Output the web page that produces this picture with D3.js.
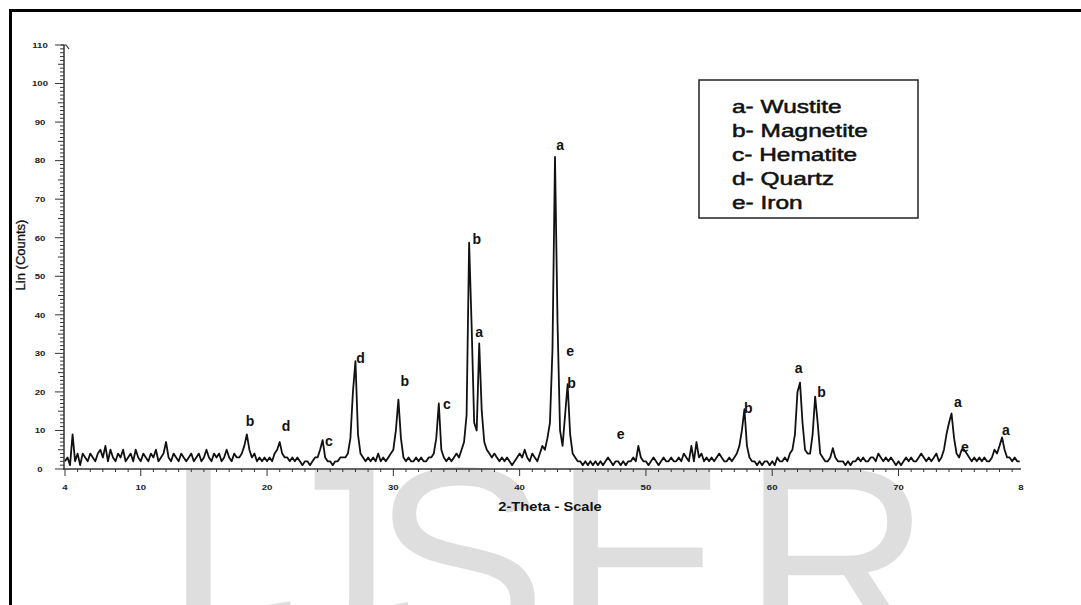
<!DOCTYPE html>
<html lang="en">
<head>
<meta charset="UTF-8" />
<title>XRD pattern</title>
<script src="https://cdn.jsdelivr.net/npm/d3@7"></script>
<style>
  body { margin: 0; background: #fff; }
  svg { display: block; font-family: "Liberation Sans", Arial, sans-serif; }
</style>
</head>
<body>
<svg width="1081" height="605"></svg>
<script>
// 2-theta sampling of the scan (start, step)
const thetaStart = 4.0;
const thetaStep = 0.2;

// counts, 10 values per 2 degrees
const counts = [
  2,3,1,9,2,4,1,4,3,2,        // 4.0
  4,3,2,4,5,3,6,2,5,3,        // 6.0
  2,4,3,5,2,3,4,2,5,3,        // 8.0
  2,4,3,2,4,3,5,2,3,4,        // 10.0
  7,3,2,4,3,2,4,3,2,3,        // 12.0
  4,2,3,4,2,3,5,3,2,4,        // 14.0
  3,4,2,3,5,3,2,4,3,3,        // 16.0
  4,6,9,5,3,4,2,3,2,3,        // 18.0
  2,3,2,4,5,7,4,3,3,2,        // 20.0
  3,2,3,2,1,2,2,1,2,3,        // 22.0
  3,5,7.5,3,2,2,1,2,2,3,      // 24.0
  3,3,4,8,20,28,9,4,3,2,      // 26.0
  3,2,3,2,4,2,3,2,3,4,        // 28.0
  5,10,18,8,3,2,3,2,2,3,      // 30.0
  2,3,2,2,3,3,4,8,17,5,       // 32.0
  3,2,3,2,3,4,3,5,7,14,       // 34.0
  58.7,37,12,10,32.6,15,7,5,4,3, // 36.0
  4,3,2,3,2,3,2,1,2,3,        // 38.0
  4,3,5,3,2,4,3,2,4,6,        // 40.0
  5,8,12,31,81,38,10,6,14,22, // 42.0
  9,4,3,2,2,1,2,1,2,1,        // 44.0
  2,1,2,1,2,3,2,1,2,2,        // 46.0
  1,2,1,2,2,3,2,6,3,2,        // 48.0
  2,1,2,3,2,1,2,3,2,2,        // 50.0
  3,2,2,3,2,4,3,2,6,2,        // 52.0
  7,3,4,2,3,2,3,2,3,4,        // 54.0
  3,2,2,3,2,3,4,6,10,15.5,    // 56.0
  6,3,2,2,1,2,1,2,2,1,        // 58.0
  2,1,3,2,2,3,2,4,5,9,        // 60.0
  20,22.4,12,5,4,4,9,18.8,12,4, // 62.0
  3,2,2,3,5.4,3,2,2,2,1,      // 64.0
  2,1,2,2,3,2,3,2,2,3,        // 66.0
  3,2,4,3,2,3,2,3,2,1,        // 68.0
  2,1,2,3,2,3,2,2,3,4,        // 70.0
  3,2,3,2,3,4,2,3,5,9,        // 72.0
  12,14.4,8,4,3,5,5,4,3,2,    // 74.0
  3,2,3,2,3,2,2,3,5,4,        // 76.0
  6,8.2,5,3,3,2,3,2,2         // 78.0
];

// phase letters over the peaks: [letter, 2-theta, counts]
const peakLetters = ["b","d","c","d","b","c","b","a","a","e","b","e","b","a","b","a","e","a"];
const peakTheta   = [18.65,21.5,24.9,27.4,30.9,34.25,36.6,36.8,43.2,44.0,44.1,48.0,58.1,62.1,63.9,74.7,75.25,78.5];
const peakCounts  = [12.5,11.2,7.3,28.8,22.8,16.9,59.7,35.5,84,30.6,22.3,9.1,15.8,26.2,20,17.4,5.7,10.1];

const legendItems = ["a- Wustite", "b- Magnetite", "c- Hematite", "d- Quartz", "e- Iron"];
const xTickValues = [4, 10, 20, 30, 40, 50, 60, 70, 79.7];
const xTickLabels = ["4", "10", "20", "30", "40", "50", "60", "70", "8"];
const yTickValues = [0, 10, 20, 30, 40, 50, 60, 70, 80, 90, 100, 110];

const svg = d3.select("svg");

// watermark behind everything
const wm = svg.append("g").attr("fill", "#dedede")
  .attr("font-size", 262).attr("font-family", "'Liberation Sans', Arial, sans-serif");
[["I", 162], ["J", 262], ["S", 372], ["E", 552], ["R", 742]].forEach(([ch, x]) => {
  wm.append("text").attr("x", x).attr("y", 650).text(ch);
});

// page frame
svg.append("path")
  .attr("d", "M10.5,605 V10.5 H1081")
  .attr("fill", "none").attr("stroke", "#000").attr("stroke-width", 3);

const x = d3.scaleLinear().domain([4, 79.7]).range([65, 1021]);
const y = d3.scaleLinear().domain([0, 110]).range([469, 45]);

const data = counts.map((c, i) => [thetaStart + i * thetaStep, c]);

// stretched text helper (the source figure is widened horizontally)
function wide(sel, sx) {
  return sel.attr("transform", function () {
    const tx = +this.getAttribute("x"), ty = +this.getAttribute("y");
    return `translate(${tx},${ty}) scale(${sx},1) translate(${-tx},${-ty})`;
  });
}

// y axis: minor ticks every count
const yAxisG = svg.append("g").attr("stroke", "#333");
yAxisG.append("line").attr("x1", 64).attr("x2", 64).attr("y1", y(0)).attr("y2", y(110)).attr("stroke-width", 1.5);
d3.range(0, 111).forEach(v => {
  const len = v % 10 === 0 ? 9 : (v % 5 === 0 ? 6 : 4);
  yAxisG.append("line").attr("x1", 64 - len).attr("x2", 64)
    .attr("y1", y(v)).attr("y2", y(v)).attr("stroke-width", 1);
});
svg.append("path").attr("d", `M61,${y(110)} h5 l3,4`).attr("fill", "none").attr("stroke", "#333").attr("stroke-width", 1.2);
wide(svg.append("g").selectAll("text").data(yTickValues).join("text")
  .attr("x", 40).attr("y", d => y(d)).attr("dy", "0.35em")
  .attr("text-anchor", "middle").attr("font-size", 8).attr("font-weight", "bold")
  .attr("fill", "#222").text(d => d), 1.2);

// x axis: minor ticks every degree
const xAxisG = svg.append("g").attr("stroke", "#333");
xAxisG.append("line").attr("x1", x(4) - 2).attr("x2", x(79.7)).attr("y1", 469).attr("y2", 469).attr("stroke-width", 1.5);
d3.range(4, 80).forEach(v => {
  const len = v % 10 === 0 || v === 4 ? 7 : 3;
  xAxisG.append("line").attr("x1", x(v)).attr("x2", x(v))
    .attr("y1", 469).attr("y2", 469 + len).attr("stroke-width", 1);
});
wide(svg.append("g").selectAll("text").data(xTickValues).join("text")
  .attr("x", d => x(d)).attr("y", 487).attr("dy", "0.35em")
  .attr("text-anchor", "middle").attr("font-size", 8).attr("font-weight", "bold")
  .attr("fill", "#222").text((d, i) => xTickLabels[i]), 1.2);

wide(svg.append("text").attr("x", 550).attr("y", 507).attr("dy", "0.35em")
  .attr("text-anchor", "middle").attr("font-size", 12).attr("font-weight", "bold")
  .attr("fill", "#111").text("2-Theta - Scale"), 1.22);

svg.append("text").attr("transform", "translate(20,255) rotate(-90)")
  .attr("dy", "0.35em").attr("text-anchor", "middle").attr("font-size", 13)
  .attr("fill", "#111").attr("stroke", "#111").attr("stroke-width", 0.3)
  .text("Lin (Counts)");

// the scan
svg.append("path").datum(data)
  .attr("fill", "none").attr("stroke", "#111").attr("stroke-width", 1.8)
  .attr("stroke-linejoin", "round")
  .attr("d", d3.line().x(d => x(d[0])).y(d => y(d[1])));

// phase letters
svg.append("g").selectAll("text").data(peakLetters).join("text")
  .attr("x", (d, i) => x(peakTheta[i])).attr("y", (d, i) => y(peakCounts[i]))
  .attr("dy", "0.35em").attr("text-anchor", "middle")
  .attr("font-size", 14).attr("font-weight", "bold").attr("fill", "#111")
  .text(d => d);

// legend box
svg.append("rect").attr("x", 699).attr("y", 80).attr("width", 219).attr("height", 138)
  .attr("fill", "#fff").attr("stroke", "#222").attr("stroke-width", 1.5);
wide(svg.append("g").selectAll("text").data(legendItems).join("text")
  .attr("x", 732).attr("y", (d, i) => 107 + i * 24).attr("dy", "0.35em")
  .attr("font-size", 18).attr("fill", "#111")
  .attr("stroke", "#111").attr("stroke-width", 0.5)
  .text(d => d), 1.36);
</script>
</body>
</html>
